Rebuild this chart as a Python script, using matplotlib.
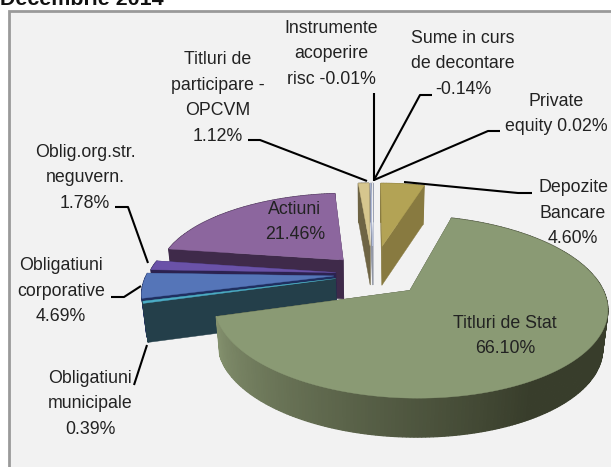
"""Exploded 3D pie of the fund's asset allocation, December 2014."""
import matplotlib

matplotlib.use("Agg")
import matplotlib.pyplot as plt
import numpy as np
from matplotlib.colors import to_rgb
from matplotlib.patches import Polygon, Rectangle

names = ["Depozite\nBancare", "Titluri de Stat", "Obligatiuni\nmunicipale",
         "Obligatiuni\ncorporative", "Oblig.org.str.\nneguvern.", "Actiuni",
         "Titluri de\nparticipare -\nOPCVM", "Instrumente\nacoperire\nrisc",
         "Sume in curs\nde decontare", "Private\nequity"]
shares = [4.60, 66.10, 0.39, 4.69, 1.78, 21.46, 1.12, -0.01, -0.14, 0.02]
title = "Decembrie 2014"

top_colors = ["#b3a355", "#8a9a74", "#4bacc6", "#5575b8", "#6a52a8", "#8c669e",
              "#d6c68e", "#b8c4e4", "#f8f8f8", "#b8c4e4"]
side_colors = ["#887a40", "#383d2b", "#243f4a", "#1f2f60", "#2c2250", "#3f2a4a",
               "#6e6444", "#8a90a0", "#d0d0d0", "#8a90a0"]
wall_light = ["#887a40", "#84916e", "#243f4a", "#1f2f60", "#2c2250", "#3f2a4a",
              "#6e6444", "#8a90a0", "#d0d0d0", "#8a90a0"]
explode = [0.36, 0.27, 0.205, 0.21, 0.20, 0.24, 0.36, 0.36, 0.36, 0.36]

CX, CY, RX, RY, K, H = 373, 274, 187, 82.6, 0.174, 39
TAPER = 0.022  # walls lean towards the middle as they go down


def project(x, z, drop=0.0):
    s = 1 / (1 + K * z)
    return CX + RX * x * s * (1 - TAPER * drop), CY - RY * z * s + H * drop


def slice_faces(a0, a1, e, top, side, light):
    mid = (a0 + a1) / 2
    ox, oz = e * np.sin(mid), e * np.cos(mid)
    t = np.linspace(a0, a1, max(int((a1 - a0) * 60), 2))
    xs, zs = ox + np.sin(t), oz + np.cos(t)
    for a in (a0, a1):  # cut faces
        x, z = ox + np.sin(a), oz + np.cos(a)
        quad = [project(ox, oz), project(x, z), project(x, z, 1), project(ox, oz, 1)]
        ax.add_patch(Polygon(quad, fc=side, ec=side, lw=0.3))
    dark, bright = np.array(to_rgb(side)), np.array(to_rgb(light))
    for i in range(len(t) - 1):  # outer wall, lighter towards the left end
        f = np.clip((np.degrees(t[i]) - 150) / 104, 0, 1)
        col = dark + f * (bright - dark)
        quad = [project(xs[i], zs[i]), project(xs[i + 1], zs[i + 1]),
                project(xs[i + 1], zs[i + 1], 1), project(xs[i], zs[i], 1)]
        ax.add_patch(Polygon(quad, fc=col, ec=col, lw=0.9))
    outline = [project(ox, oz)] + [project(x, z) for x, z in zip(xs, zs)]
    ax.add_patch(Polygon(outline, fc=top, ec=top, lw=0.3))


fig = plt.figure(figsize=(6.11, 4.67), dpi=100)
ax = fig.add_axes([0, 0, 1, 1])
ax.set_xlim(0, 611)
ax.set_ylim(467, 0)
ax.axis("off")
plt.rcParams["font.family"] = ["Liberation Sans"]

ax.add_patch(Rectangle((9, 11), 620, 480, fc="#f2f2f2", ec="#9a9a9a", lw=2))
ax.text(0, 5, title, fontsize=15.4, fontweight="bold", color="#111111", va="baseline")

sizes = np.abs(shares)
edges = np.concatenate([[0], np.cumsum(sizes)]) / sizes.sum() * 2 * np.pi
mids = (edges[:-1] + edges[1:]) / 2
for i in np.argsort(-np.cos(mids)):
    slice_faces(edges[i], edges[i + 1], explode[i], top_colors[i], side_colors[i], wall_light[i])

label_at = [(573, 213), (505, 336), (90, 404), (61, 291), (85, 178), (295, 222),
            (218, 98), (331, 54), (463, 64), (556, 114)]
for name, value, (x, y) in zip(names, shares, label_at):
    sep = " " if name.endswith(("risc", "equity")) else "\n"
    ax.text(x, y, f"{name}{sep}{value:.2f}%", ha="center", va="center", fontsize=12.8,
            linespacing=1.65, color="#222222")

leaders = [[(532, 193), (518, 193), (404, 182)],
           [(134, 385), (147, 345)],
           [(111, 297), (124, 297), (141, 286)],
           [(115, 207), (128, 207), (148, 263)],
           [(248, 140), (260, 140), (367, 181)],
           [(374, 93), (374, 181)],
           [(432, 95), (420, 95), (374, 180)],
           [(500, 131), (488, 131), (374, 180)]]
for pts in leaders:
    xs, ys = zip(*pts)
    ax.plot(xs, ys, color="black", lw=1.5, solid_capstyle="butt")

fig.savefig("out.png", dpi=100)
